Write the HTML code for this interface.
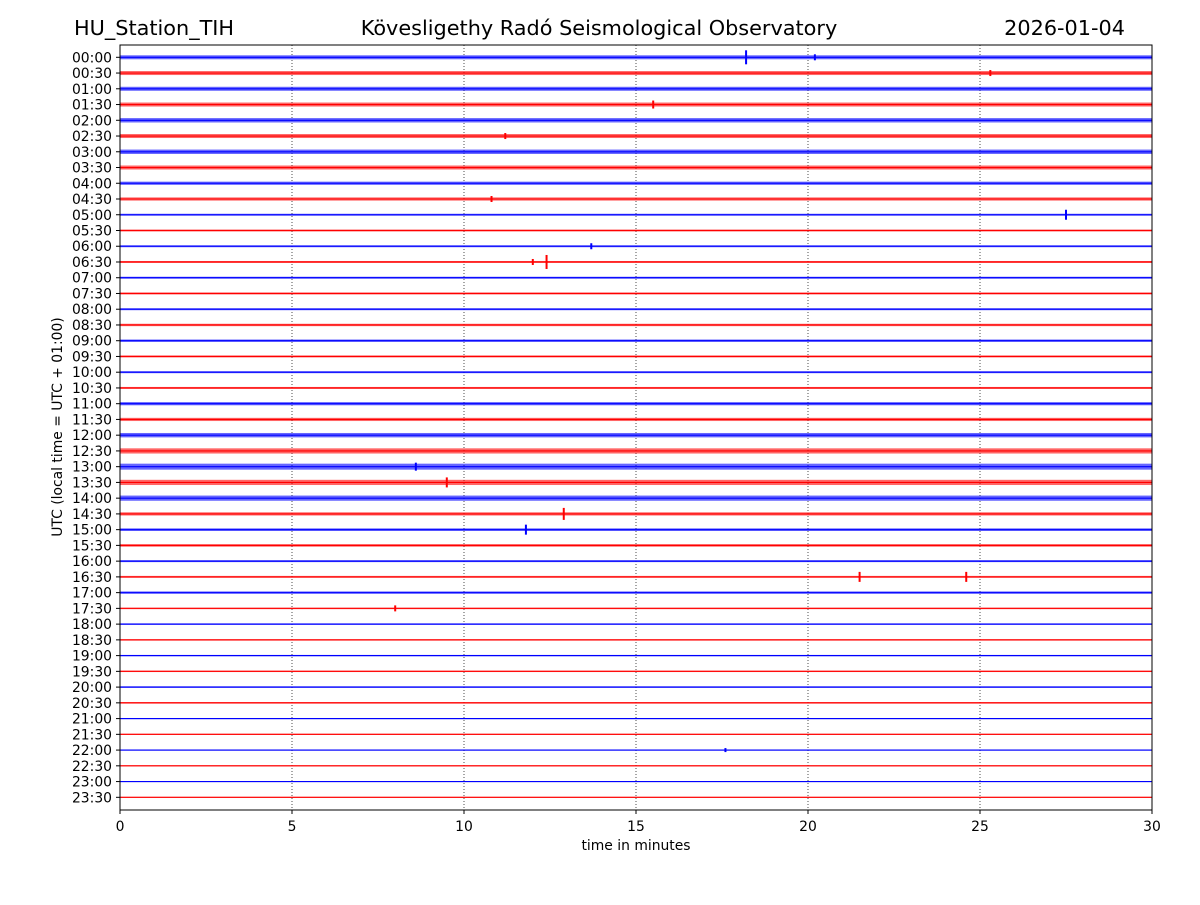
<!DOCTYPE html>
<html><head><meta charset="utf-8"><style>
body{margin:0;background:#fff}
svg text{font-family:"DejaVu Sans","Liberation Sans",sans-serif}
</style></head><body>
<svg id="chart" width="1200" height="900" viewBox="0 0 1200 900">
<rect width="1200" height="900" fill="#fff"/>
<text x="74" y="35" font-size="20.8">HU_Station_TIH</text>
<text x="599" y="35" font-size="20.8" text-anchor="middle">Kövesligethy Radó Seismological Observatory</text>
<text x="1125" y="35" font-size="20.8" text-anchor="end">2026-01-04</text>
<g id="plot"></g>
<text x="636" y="850" font-size="13.9" text-anchor="middle">time in minutes</text>
<text transform="translate(62,427) rotate(-90)" font-size="13.9" text-anchor="middle">UTC (local time = UTC + 01:00)</text>
</svg>
<script>
const rowLabels=[];for(let h=0;h<24;h++){const s=String(h).padStart(2,'0');rowLabels.push(s+':00',s+':30');}
const noiseAmp=[2,2,2,2,2.2,2,2.2,2,1.6,1.6,1,1,1,1,1,1,1,1.2,1.2,1,1,1,1.6,1.6,2.2,2.6,3,2.6,2.6,1.6,1.3,1.3,1,1,1.2,0.8,0.8,0.8,0.7,0.7,0.8,0.8,0.6,0.6,0.6,0.6,0.5,0.5];
const evRow=[0,0,3,10,13,13,29,30,33,33,26,27,12,35,44,1,5,9];
const evMin=[18.2,20.2,15.5,27.5,12.4,12.0,12.9,11.8,21.5,24.6,8.6,9.5,13.7,8.0,17.6,25.3,11.2,10.8];
const evAmp=[7,3,4,5,7,3,6,5,5,5,4,5,3,3,2,3,3,3];
const xTicks=[0,5,10,15,20,25,30];
const L=120,R=1152,T=45,B=810,Y0=57.3,DY=15.745;
const x=m=>L+(m/30)*(R-L);
const y=i=>Y0+i*DY;
const ns='http://www.w3.org/2000/svg';
const g=document.getElementById('plot');
function mk(t,a,p){const e=document.createElementNS(ns,t);for(const k in a)e.setAttribute(k,a[k]);(p||g).appendChild(e);return e;}
xTicks.slice(1,-1).forEach(t=>{const l=mk('line',{x1:x(t),x2:x(t),y1:T,y2:B,stroke:'#000','stroke-width':0.7,'stroke-dasharray':'1,2'});

});
rowLabels.forEach((lab,i)=>{const c=i%2?'#ff0000':'#0000ff';const a=noiseAmp[i];
const b=mk('rect',{x:L,y:y(i)-a,width:R-L,height:2*a,fill:c,opacity:0.6});


const ln=mk('line',{x1:L,x2:R,y1:y(i),y2:y(i),stroke:c,'stroke-width':1.1});


mk('line',{x1:L-4,x2:L,y1:y(i),y2:y(i),stroke:'#000'});
const t=mk('text',{x:L-8,y:y(i)+5,'font-size':13.9,'text-anchor':'end'});t.textContent=lab;

});
evRow.forEach((r,k)=>{const c=r%2?'#ff0000':'#0000ff';
const e=mk('rect',{x:x(evMin[k])-1,y:y(r)-evAmp[k],width:2,height:2*evAmp[k],fill:c});

});
const fr=mk('rect',{x:L,y:T,width:R-L,height:B-T,fill:'none',stroke:'#000','stroke-width':1});


xTicks.forEach(t=>{mk('line',{x1:x(t),x2:x(t),y1:B,y2:B+4,stroke:'#000'});
const tx=mk('text',{x:x(t),y:B+21,'font-size':13.9,'text-anchor':'middle'});tx.textContent=t;

});
</script>
</body></html>
